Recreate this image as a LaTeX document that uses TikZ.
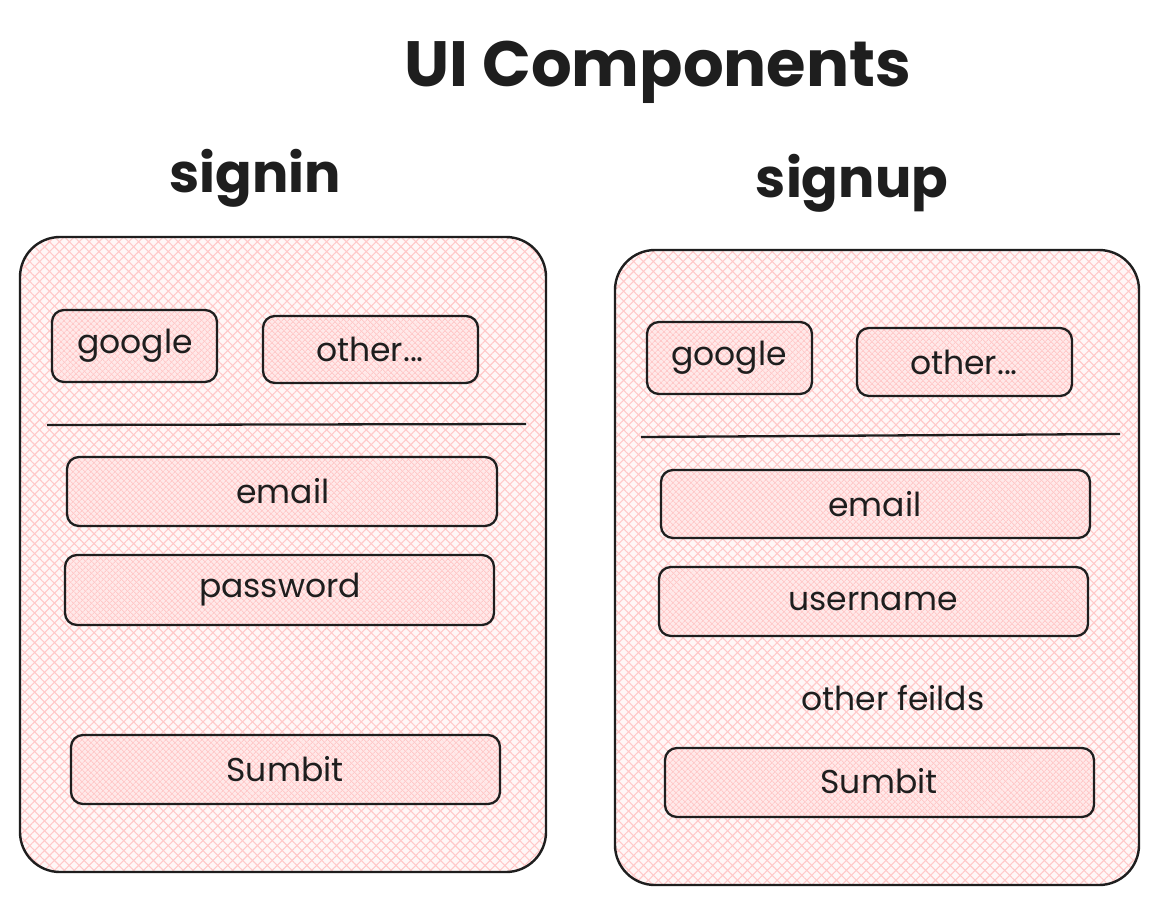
\documentclass[tikz,border=0pt]{standalone}
\usepackage{fontspec}
\setmainfont{Poppins}
\usetikzlibrary{patterns.meta}

\definecolor{ink}{HTML}{1E1E1E}
\definecolor{hatch}{HTML}{FFC9C9}

\tikzset{
	panel/.style={draw=ink, line width=2.4pt, rounded corners=40pt,
		preaction={fill=hatch!15},
		preaction={pattern={Lines[angle=45,distance=7pt,line width=1.1pt]}, pattern color=hatch},
		preaction={pattern={Lines[angle=-45,distance=7pt,line width=1.1pt]}, pattern color=hatch}},
	btn/.style={draw=ink, line width=2.3pt, rounded corners=12pt,
		preaction={fill=hatch!40},
		preaction={pattern={Lines[angle=45,distance=4pt,line width=.9pt]}, pattern color=hatch},
		preaction={pattern={Lines[angle=-45,distance=4pt,line width=.9pt]}, pattern color=hatch}},
	label/.style={text=ink, font=\fontsize{33}{36}\selectfont},
	heading/.style={text=ink, font=\fontsize{54}{60}\selectfont\bfseries},
}

\begin{document}
\begin{tikzpicture}[x=1pt, y=-1pt]
	\fill[white] (0, 0) rectangle (1158, 905);
	\useasboundingbox (0, 0) rectangle (1158, 905);

	\node[heading, font=\fontsize{64}{70}\selectfont\bfseries, anchor=base] (title) at (658, 86) {UI Components};
	\node[heading] (signin) at (255, 178) {signin};
	\node[heading] (signup) at (852, 183) {signup};

	% signin
	\draw[panel] (20, 237) rectangle (546, 872);

	\draw[btn] (52, 310) rectangle (217, 382);
	\node[label] (ingoogle) at (135, 346) {google};
	\draw[btn] (263, 316) rectangle (478, 383);
	\node[label] (inother) at (370, 349) {other...};

	\draw[ink, line width=2.3pt] (47, 425) -- (526, 424);

	\draw[btn] (67, 457) rectangle (497, 526);
	\node[label] (inemail) at (283, 491) {email};
	\draw[btn] (65, 555) rectangle (494, 625);
	\node[label] (inpass) at (280, 590) {password};
	\draw[btn] (71, 735) rectangle (500, 804);
	\node[label] (insubmit) at (285, 769) {Sumbit};

	% signup
	\draw[panel] (615, 250) rectangle (1139, 885);

	\draw[btn] (647, 322) rectangle (812, 394);
	\node[label] (upgoogle) at (729, 358) {google};
	\draw[btn] (857, 328) rectangle (1072, 396);
	\node[label] (upother) at (964, 362) {other...};

	\draw[ink, line width=2.3pt] (641, 437) -- (1120, 434);

	\draw[btn] (661, 470) rectangle (1090, 538);
	\node[label] (upemail) at (875, 504) {email};
	\draw[btn] (659, 567) rectangle (1088, 636);
	\node[label] (upuser) at (873, 601) {username};
	\node[label] (upother2) at (893, 698) {other feilds};
	\draw[btn] (665, 748) rectangle (1094, 817);
	\node[label] (upsubmit) at (879, 781) {Sumbit};

\end{tikzpicture}
\end{document}
